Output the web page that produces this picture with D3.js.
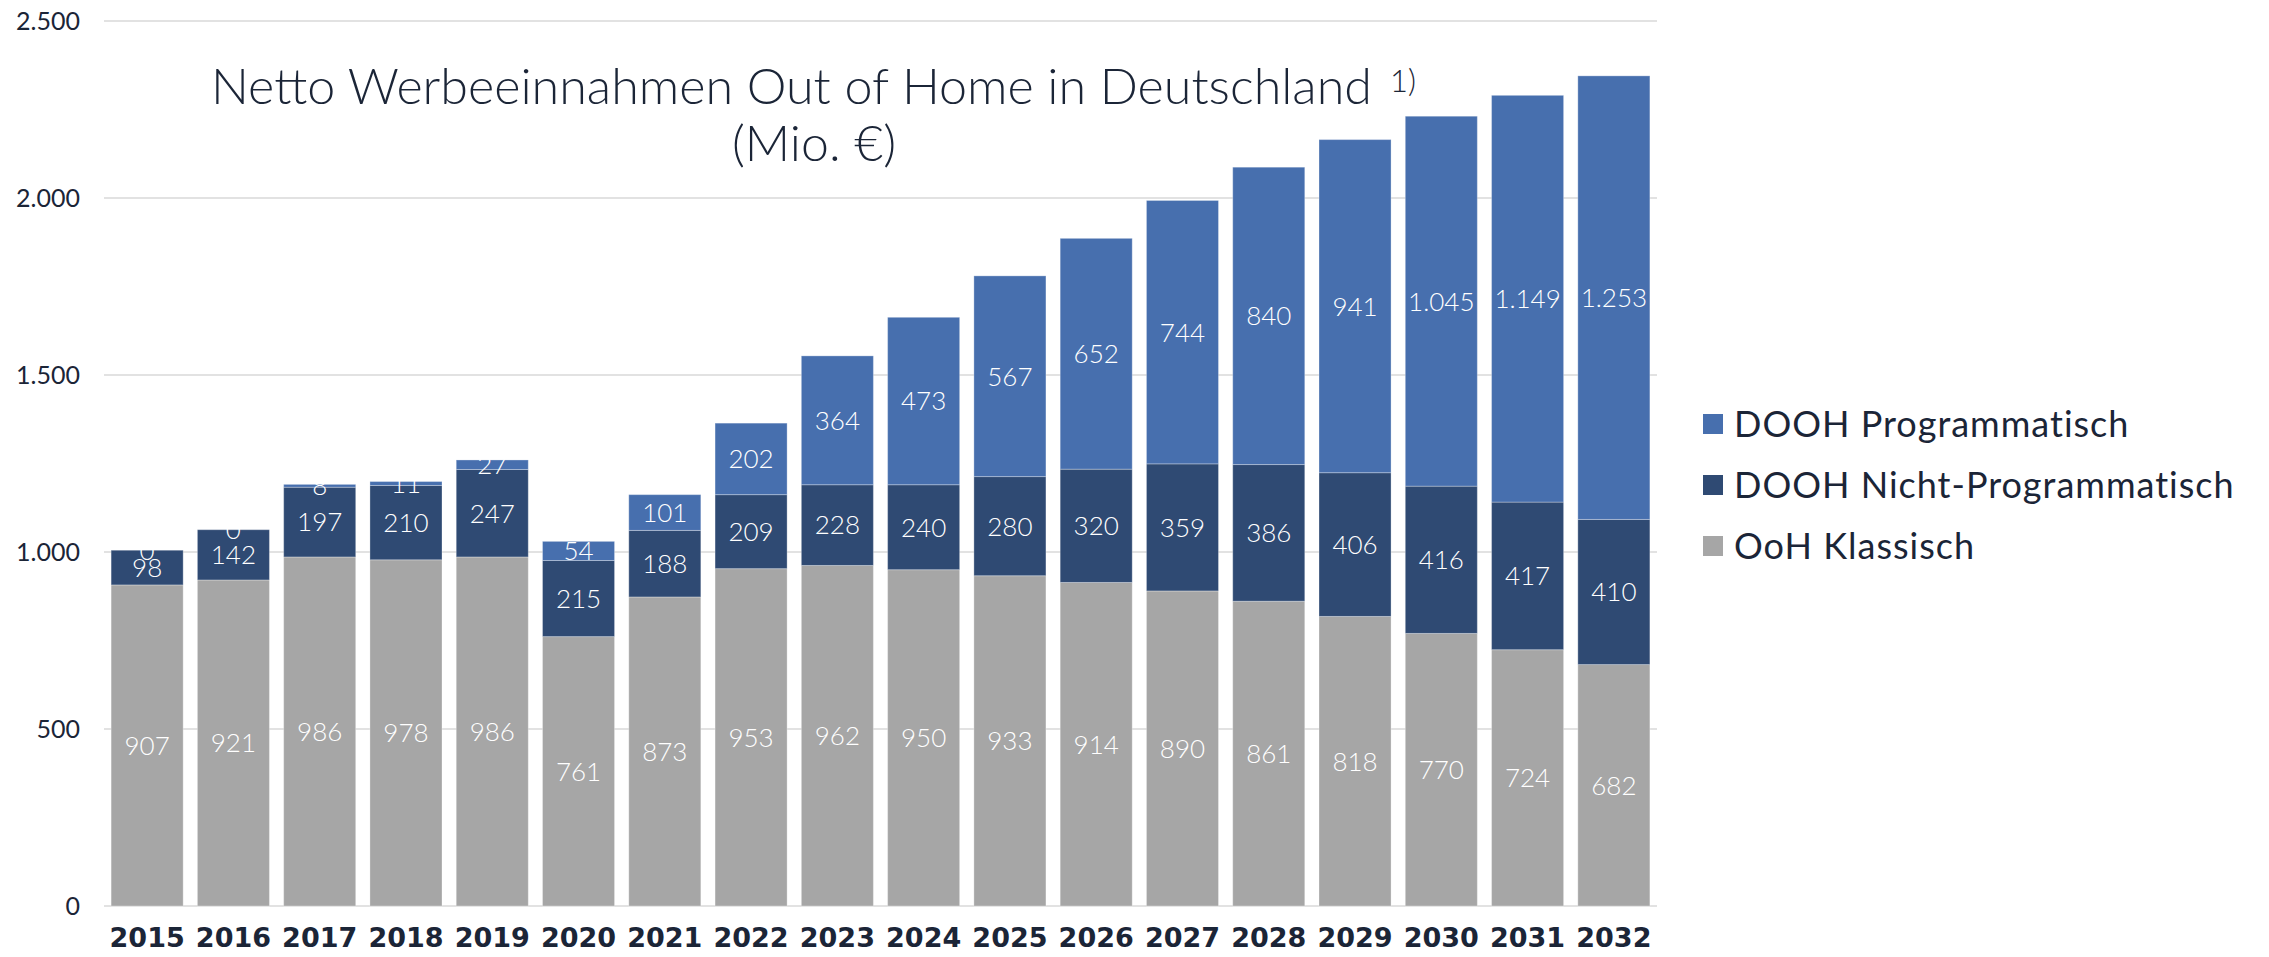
<!DOCTYPE html>
<html>
<head>
<meta charset="utf-8">
<script src="https://cdn.jsdelivr.net/npm/d3@7"></script>
<style>
  html, body { margin: 0; padding: 0; background: #fff; }
  svg { display: block; }
</style>
</head>
<body>
<svg id="chart" width="2269" height="957"></svg>
<script>
const years = ['2015', '2016', '2017', '2018', '2019', '2020', '2021', '2022', '2023',
    '2024', '2025', '2026', '2027', '2028', '2029', '2030', '2031', '2032'];
const oohKlassisch = [907, 921, 986, 978, 986, 761, 873, 953, 962, 950, 933, 914, 890, 861, 818, 770, 724, 682];
const doohNicht = [98, 142, 197, 210, 247, 215, 188, 209, 228, 240, 280, 320, 359, 386, 406, 416, 417, 410];
const doohProg = [0, 0, 8, 11, 27, 54, 101, 202, 364, 473, 567, 652, 744, 840, 941, 1045, 1149, 1253];
const yTicks = [0, 500, 1000, 1500, 2000, 2500];
const seriesNames = ['DOOH Programmatisch', 'DOOH Nicht-Programmatisch', 'OoH Klassisch'];

const svg = d3.select('#chart');
const TEXT = '#1b2537';
const COLORS = { klassisch: '#a6a6a6', nicht: '#2f4a73', prog: '#476fae' };
const LEFT = 104, RIGHT = 1657, BOTTOM = 906, TOP = 21;

const de = d3.formatLocale({ decimal: ',', thousands: '.', grouping: [3], currency: ['', ' €'] });
const fmt = de.format(',d');

const rows = years.map((y, i) => ({ year: y, klassisch: oohKlassisch[i], nicht: doohNicht[i], prog: doohProg[i] }));
const keys = ['klassisch', 'nicht', 'prog'];
const stacked = d3.stack().keys(keys)(rows);

const xScale = d3.scaleBand().domain(years).range([LEFT, RIGHT]).paddingInner(0.165).paddingOuter(0.0825);
const yScale = d3.scaleLinear().domain([0, 2500]).range([BOTTOM, TOP]);

// gridlines
svg.append('g')
    .attr('id', 'grid')
    .selectAll('line')
    .data(yTicks)
    .join('line')
    .attr('x1', LEFT)
    .attr('x2', RIGHT)
    .attr('y1', d => yScale(d))
    .attr('y2', d => yScale(d))
    .style('stroke', '#e2e2e2')
    .style('stroke-width', 2);

// y axis labels
const yAxis = d3.axisLeft(yScale).tickValues(yTicks).tickFormat(fmt).tickSize(0).tickPadding(0);
const yAxisGroup = svg.append('g').attr('id', 'yAxis').attr('transform', 'translate(80,0)');
yAxis(yAxisGroup);
yAxisGroup.select('.domain').remove();
yAxisGroup.selectAll('text')
    .style('font-family', 'Lato, "Open Sans", sans-serif')
    .style('font-size', '25px')
    .style('fill', TEXT);

// bars
const layers = svg.append('g')
    .attr('id', 'bars')
    .selectAll('g')
    .data(stacked)
    .join('g')
    .style('fill', d => COLORS[d.key]);

layers.selectAll('rect')
    .data(d => d)
    .join('rect')
    .attr('x', d => xScale(d.data.year))
    .attr('width', xScale.bandwidth())
    .attr('y', d => yScale(d[1]))
    .attr('height', d => yScale(d[0]) - yScale(d[1]))
    .style('stroke', 'rgba(255,255,255,0.3)')
    .style('stroke-width', 1);

// value labels (centred in each segment, like the original)
svg.append('g')
    .attr('id', 'labels')
    .selectAll('g')
    .data(stacked)
    .join('g')
    .selectAll('text')
    .data(d => d.map(v => ({ v, key: d.key })))
    .join('text')
    .attr('x', d => xScale(d.v.data.year) + xScale.bandwidth() / 2)
    .attr('y', d => yScale((d.v[0] + d.v[1]) / 2))
    .attr('dy', '0.36em')
    .attr('text-anchor', 'middle')
    .style('font-family', 'Lato, "Open Sans", sans-serif')
    .style('font-weight', 300)
    .style('font-size', '26px')
    .style('fill', '#fff')
    .text(d => fmt(d.v.data[d.key]));

// x axis labels
const xAxis = d3.axisBottom(xScale).tickSize(0).tickPadding(0);
const xAxisGroup = svg.append('g').attr('id', 'xAxis').attr('transform', 'translate(0,947)');
xAxis(xAxisGroup);
xAxisGroup.select('.domain').remove();
xAxisGroup.selectAll('text')
    .attr('dy', null)
    .attr('y', 0)
    .style('font-family', '"DejaVu Sans", sans-serif')
    .style('font-weight', 'bold')
    .style('font-size', '27px')
    .style('fill', TEXT);

// title
const title = svg.append('g').attr('id', 'title')
    .style('font-family', 'Lato, "Open Sans", sans-serif')
    .style('font-weight', 300)
    .style('fill', TEXT);
title.append('text')
    .attr('x', 211)
    .attr('y', 104)
    .attr('textLength', 1161)
    .attr('lengthAdjust', 'spacingAndGlyphs')
    .style('font-size', '50px')
    .text('Netto Werbeeinnahmen Out of Home in Deutschland');
title.append('text')
    .attr('x', 1390)
    .attr('y', 92)
    .style('font-size', '31px')
    .text('1)');
title.append('text')
    .attr('x', 814)
    .attr('y', 161)
    .attr('text-anchor', 'middle')
    .style('font-size', '50px')
    .text('(Mio. €)');

// legend
const legendColors = [COLORS.prog, COLORS.nicht, COLORS.klassisch];
const legend = svg.append('g')
    .attr('id', 'legend')
    .selectAll('g')
    .data(seriesNames)
    .join('g')
    .attr('transform', (_d, i) => `translate(1703,${424 + i * 61})`);
legend.append('rect')
    .attr('x', 0)
    .attr('y', -10)
    .attr('width', 20)
    .attr('height', 20)
    .style('fill', (_d, i) => legendColors[i]);
legend.append('text')
    .attr('x', 31)
    .attr('y', 0)
    .attr('dy', '0.36em')
    .style('font-family', 'Lato, "Open Sans", sans-serif')
    .style('font-size', '36px')
    .style('letter-spacing', '1px')
    .style('fill', TEXT)
    .text(d => d);
</script>
</body>
</html>
